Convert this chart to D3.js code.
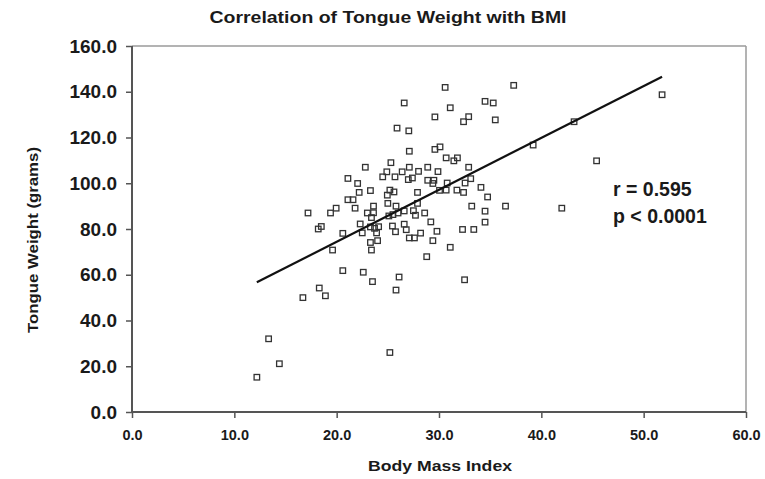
<!DOCTYPE html>
<html>

<head>
    <meta charset="utf-8">
    <style>
        body {
            margin: 0;
            background: #fff;
        }

        svg {
            display: block;
            font-family: 'Liberation Sans', Arial, sans-serif;
        }

        .tick text {
            font-weight: bold;
            fill: #1a1a1a;
        }

        .y .tick text {
            font-size: 19px;
        }

        .x .tick text {
            font-size: 14.5px;
        }

        .tick line {
            stroke: #555;
            stroke-width: 1.5;
        }

        .domain {
            display: none;
        }

        .title,
        .axis-label,
        .stat {
            font-weight: bold;
            fill: #1a1a1a;
        }
    </style>
</head>

<body>
    <svg width="765" height="479"></svg>

    <script src="https://d3js.org/d3.v7.min.js"></script>
    <script>
        // BMI (x) and tongue weight in grams (y)
        let bmi = [
            12.2, 13.35, 14.4, 16.7, 18.3, 18.9, 20.6, 22.6, 23.5, 26.1,
            25.8, 25.2, 32.5, 28.8, 31.1, 19.6,
            17.2, 18.2, 18.5, 19.4, 19.95, 20.6, 21.1, 21.6, 21.8, 21.1,
            22.05, 22.2, 23.3, 22.8, 22.3, 22.5, 23.0, 23.6, 23.6, 23.4,
            23.3, 23.7, 24.1, 23.9, 23.3, 24.0, 23.4,
            24.5, 24.9, 25.7, 25.3, 25.9, 27.05, 26.6, 27.1, 26.4, 27.1,
            27.0, 27.4, 25.2, 25.6, 24.95, 25.0, 25.8, 25.1, 25.5, 26.0,
            26.6, 27.5, 27.7, 28.6, 27.9, 25.45, 25.75, 26.6, 26.8, 27.1,
            27.6, 28.2, 29.2, 29.8, 29.4, 27.9, 28.0, 28.9, 29.9, 28.9,
            29.5, 29.4, 30.8, 32.55, 33.1, 34.1, 34.75, 30.05, 30.7, 31.75,
            32.4, 33.2, 36.5, 34.5, 34.5, 32.3, 33.4, 42.0, 45.4, 39.2,
            43.2, 51.8, 37.3, 30.6, 31.1, 34.5, 35.3, 29.6, 32.4, 32.9,
            35.5, 29.6, 30.1, 30.7, 31.45, 31.8, 32.9
        ]

        let tongueWeight = [
            15.2, 32.0, 21.1, 50.0, 54.2, 50.8, 61.8, 61.1, 57.0, 59.0,
            53.3, 26.0, 57.8, 67.9, 72.0, 70.8,
            87.0, 80.0, 81.1, 87.0, 89.1, 78.1, 92.8, 92.8, 89.1, 102.1,
            99.9, 96.0, 96.8, 107.0, 82.2, 78.3, 87.0, 87.1, 90.0, 85.0,
            80.9, 80.3, 81.0, 78.3, 74.1, 74.9, 70.8,
            102.8, 105.0, 102.8, 109.0, 124.1, 122.9, 135.1, 114.0, 105.0, 107.0,
            101.6, 102.3, 97.0, 96.2, 94.8, 91.2, 90.0, 85.7, 86.3, 87.0,
            87.9, 88.0, 86.0, 87.0, 91.2, 81.3, 78.8, 82.1, 79.7, 76.1,
            76.1, 78.2, 83.1, 79.0, 74.9, 96.0, 105.2, 107.0, 105.1, 101.3,
            101.3, 99.9, 100.1, 100.1, 102.0, 98.2, 94.0, 96.9, 97.0, 97.0,
            96.0, 90.0, 90.0, 87.8, 83.0, 79.8, 79.8, 89.1, 109.8, 116.7,
            126.9, 138.7, 142.8, 141.9, 133.0, 135.8, 135.1, 129.0, 126.9, 129.1,
            127.7, 114.8, 115.9, 111.1, 109.8, 111.1, 107.0
        ]

        // regression line end points
        let fitX = [12.2, 51.8]
        let fitY = [56.7, 146.6]

        let xTicks = [0, 10, 20, 30, 40, 50, 60]
        let yTicks = [0, 20, 40, 60, 80, 100, 120, 140, 160]

        let statLines = ["r = 0.595", "p < 0.0001"]

        let svg = d3.select("svg")

        let margin = { top: 46, right: 19, bottom: 67, left: 132 }
        let width = 765 - margin.left - margin.right
        let height = 479 - margin.top - margin.bottom

        let x = d3.scaleLinear()
            .domain([0, 60])
            .range([margin.left, margin.left + width])

        let y = d3.scaleLinear()
            .domain([0, 160])
            .range([margin.top + height, margin.top])

        // plot frame (top and right are lighter)
        svg.append("line")
            .attr("x1", x(0)).attr("x2", x(60))
            .attr("y1", y(160)).attr("y2", y(160))
            .attr("stroke", "#9a9a9a")
            .attr("stroke-width", 1.5)

        svg.append("line")
            .attr("x1", x(60)).attr("x2", x(60))
            .attr("y1", y(160)).attr("y2", y(0))
            .attr("stroke", "#9a9a9a")
            .attr("stroke-width", 1.5)

        let xAxis = svg.append("g")
            .attr("class", "x axis")
            .attr("transform", `translate(0,${y(0)})`)
            .call(d3.axisBottom(x)
                .tickValues(xTicks)
                .tickSize(6)
                .tickPadding(12)
                .tickFormat(d3.format(".1f")))

        let yAxis = svg.append("g")
            .attr("class", "y axis")
            .attr("transform", `translate(${x(0)},0)`)
            .call(d3.axisLeft(y)
                .tickValues(yTicks)
                .tickSize(6)
                .tickPadding(9)
                .tickFormat(d3.format(".1f")))

        svg.append("line")
            .attr("x1", x(0)).attr("x2", x(0))
            .attr("y1", y(160)).attr("y2", y(0))
            .attr("stroke", "#555")
            .attr("stroke-width", 2)

        svg.append("line")
            .attr("x1", x(0)).attr("x2", x(60))
            .attr("y1", y(0)).attr("y2", y(0))
            .attr("stroke", "#555")
            .attr("stroke-width", 2)

        // points
        let points = bmi.map((b, i) => ({ x: b, y: tongueWeight[i] }))
        let s = 5.5

        svg.append("g")
            .attr("class", "points")
            .selectAll("rect")
            .data(points)
            .join("rect")
            .attr("x", d => x(d.x) - s / 2)
            .attr("y", d => y(d.y) - s / 2)
            .attr("width", s)
            .attr("height", s)
            .attr("fill", "none")
            .attr("stroke", "#333")
            .attr("stroke-width", 1.3)

        // fitted line
        svg.append("line")
            .attr("x1", x(fitX[0])).attr("y1", y(fitY[0]))
            .attr("x2", x(fitX[1])).attr("y2", y(fitY[1]))
            .attr("stroke", "#111")
            .attr("stroke-width", 2.2)

        // the source text is a bit wider than Arial, so stretch to its width
        svg.append("text")
            .attr("class", "title")
            .attr("x", 388)
            .attr("y", 23)
            .attr("text-anchor", "middle")
            .attr("textLength", 357)
            .attr("lengthAdjust", "spacingAndGlyphs")
            .style("font-size", "17px")
            .text("Correlation of Tongue Weight with BMI")

        svg.append("text")
            .attr("class", "axis-label")
            .attr("x", 440)
            .attr("y", 471)
            .attr("text-anchor", "middle")
            .attr("textLength", 144)
            .attr("lengthAdjust", "spacingAndGlyphs")
            .style("font-size", "15px")
            .text("Body Mass Index")

        svg.append("text")
            .attr("class", "axis-label")
            .attr("transform", "translate(38,240) rotate(-90)")
            .attr("text-anchor", "middle")
            .attr("textLength", 186)
            .attr("lengthAdjust", "spacingAndGlyphs")
            .style("font-size", "14.5px")
            .text("Tongue Weight (grams)")

        svg.append("g")
            .selectAll("text")
            .data(statLines)
            .join("text")
            .attr("class", "stat")
            .attr("x", 613)
            .attr("y", (d, i) => 196 + i * 27)
            .style("font-size", "19.5px")
            .text(d => d)
    </script>
</body>

</html>
